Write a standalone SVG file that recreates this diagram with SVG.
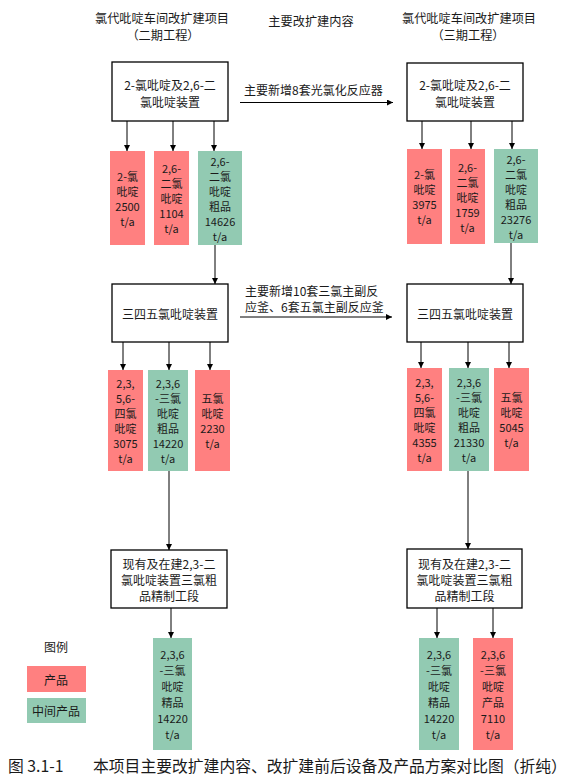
<svg xmlns="http://www.w3.org/2000/svg" width="569" height="775" viewBox="0 0 569 775">
<defs>
<marker id="ah" viewBox="0 0 10 10" refX="10" refY="5" markerWidth="6" markerHeight="6" markerUnits="userSpaceOnUse" orient="auto">
<path d="M0,0 L10,5 L0,10 z" fill="#000"/>
</marker>
<style>
text{font-family:"Noto Sans CJK SC","Liberation Sans",sans-serif;fill:#1a1a1a;dominant-baseline:central;text-anchor:middle}
.h{font-size:12.2px}
.b{font-size:12px}
.p{font-size:11px}
.box{fill:#fff;stroke:#000;stroke-width:1.3}
.red{fill:#FF8080}
.grn{fill:#92CAB2}
.c line{stroke:#000;stroke-width:1;marker-end:url(#ah)}
.l{text-anchor:start}
.cap{font-size:15.8px;text-anchor:start}
</style>
</defs>
<rect width="569" height="775" fill="#fff"/>

<g id="headers">
<text class="h" x="162" y="17.5">氯代吡啶车间改扩建项目</text>
<text class="h" x="163" y="34.5">（二期工程）</text>
<text class="h" x="311" y="20.5">主要改扩建内容</text>
<text class="h" x="469" y="17.5">氯代吡啶车间改扩建项目</text>
<text class="h" x="468" y="34.5">（三期工程）</text>
</g>

<g class="c" id="connectors">
<line x1="127" y1="121" x2="127" y2="151"/>
<line x1="173" y1="121" x2="173" y2="151"/>
<line x1="214" y1="121" x2="214" y2="151"/>
<line x1="422" y1="121" x2="422" y2="149"/>
<line x1="471" y1="121" x2="471" y2="149"/>
<line x1="512" y1="121" x2="512" y2="149"/>
<line x1="215" y1="245" x2="215" y2="284"/>
<line x1="511" y1="243" x2="511" y2="284"/>
<line x1="123" y1="342" x2="123" y2="370"/>
<line x1="169" y1="342" x2="169" y2="370"/>
<line x1="210" y1="342" x2="210" y2="370"/>
<line x1="421" y1="342" x2="421" y2="368"/>
<line x1="468" y1="342" x2="468" y2="368"/>
<line x1="509" y1="342" x2="509" y2="368"/>
<line x1="169" y1="471" x2="169" y2="550"/>
<line x1="468" y1="471" x2="468" y2="549"/>
<line x1="171" y1="608" x2="171" y2="638"/>
<line x1="437" y1="608" x2="437" y2="638"/>
<line x1="493" y1="608" x2="493" y2="638"/>
<line x1="240" y1="102.5" x2="393" y2="102.5"/>
<line x1="240" y1="317" x2="392" y2="317"/>
</g>

<g id="label-1">
<text class="b l" x="244" y="89">主要新增8套光氯化反应器</text>
</g>
<g id="label-2">
<text class="b l" x="245" y="290">主要新增10套三氯主副反</text>
<text class="b l" x="245" y="306">应釜、6套五氯主副反应釜</text>
</g>

<g id="A1">
<rect class="box" x="112" y="62" width="116" height="59"/>
<text class="b" x="170" y="84">2-氯吡啶及2,6-二</text>
<text class="b" x="170" y="101">氯吡啶装置</text>
</g>
<g id="A2">
<rect class="box" x="407" y="63" width="116" height="58"/>
<text class="b" x="465" y="84">2-氯吡啶及2,6-二</text>
<text class="b" x="465" y="101">氯吡啶装置</text>
</g>

<g id="L1a">
<rect class="red" x="110" y="151" width="35" height="94"/>
<text class="p" x="127.5" y="175.5">2-氯</text>
<text class="p" x="127.5" y="190.5">吡啶</text>
<text class="p" x="127.5" y="205.5">2500</text>
<text class="p" x="127.5" y="220.5">t/a</text>
</g>
<g id="L1b">
<rect class="red" x="154" y="151" width="35" height="94"/>
<text class="p" x="171.5" y="168">2,6-</text>
<text class="p" x="171.5" y="183">二氯</text>
<text class="p" x="171.5" y="198">吡啶</text>
<text class="p" x="171.5" y="213">1104</text>
<text class="p" x="171.5" y="228">t/a</text>
</g>
<g id="L1c">
<rect class="grn" x="198" y="151" width="44" height="94"/>
<text class="p" x="220" y="160.5">2,6-</text>
<text class="p" x="220" y="175.5">二氯</text>
<text class="p" x="220" y="190.5">吡啶</text>
<text class="p" x="220" y="205.5">粗品</text>
<text class="p" x="220" y="220.5">14626</text>
<text class="p" x="220" y="235.5">t/a</text>
</g>

<g id="R1a">
<rect class="red" x="407" y="149" width="35" height="95"/>
<text class="p" x="424.5" y="174">2-氯</text>
<text class="p" x="424.5" y="189">吡啶</text>
<text class="p" x="424.5" y="204">3975</text>
<text class="p" x="424.5" y="219">t/a</text>
</g>
<g id="R1b">
<rect class="red" x="450" y="149" width="35" height="95"/>
<text class="p" x="467.5" y="166.5">2,6-</text>
<text class="p" x="467.5" y="181.5">二氯</text>
<text class="p" x="467.5" y="196.5">吡啶</text>
<text class="p" x="467.5" y="211.5">1759</text>
<text class="p" x="467.5" y="226.5">t/a</text>
</g>
<g id="R1c">
<rect class="grn" x="494" y="149" width="44" height="94"/>
<text class="p" x="516" y="158.5">2,6-</text>
<text class="p" x="516" y="173.5">二氯</text>
<text class="p" x="516" y="188.5">吡啶</text>
<text class="p" x="516" y="203.5">粗品</text>
<text class="p" x="516" y="218.5">23276</text>
<text class="p" x="516" y="233.5">t/a</text>
</g>

<g id="B1">
<rect class="box" x="112" y="284" width="116" height="58"/>
<text class="b" x="170" y="313">三四五氯吡啶装置</text>
</g>
<g id="B2">
<rect class="box" x="407" y="284" width="116" height="58"/>
<text class="b" x="465" y="313">三四五氯吡啶装置</text>
</g>

<g id="L2a">
<rect class="red" x="108" y="370" width="35" height="101"/>
<text class="p" x="125.5" y="383">2,3,</text>
<text class="p" x="125.5" y="398">5,6-</text>
<text class="p" x="125.5" y="413">四氯</text>
<text class="p" x="125.5" y="428">吡啶</text>
<text class="p" x="125.5" y="443">3075</text>
<text class="p" x="125.5" y="458">t/a</text>
</g>
<g id="L2b">
<rect class="grn" x="148" y="370" width="40" height="101"/>
<text class="p" x="168" y="383">2,3,6</text>
<text class="p" x="168" y="398">-三氯</text>
<text class="p" x="168" y="413">吡啶</text>
<text class="p" x="168" y="428">粗品</text>
<text class="p" x="168" y="443">14220</text>
<text class="p" x="168" y="458">t/a</text>
</g>
<g id="L2c">
<rect class="red" x="195" y="370" width="35" height="101"/>
<text class="p" x="212.5" y="398">五氯</text>
<text class="p" x="212.5" y="413">吡啶</text>
<text class="p" x="212.5" y="428">2230</text>
<text class="p" x="212.5" y="443">t/a</text>
</g>

<g id="R2a">
<rect class="red" x="407" y="368" width="35" height="103"/>
<text class="p" x="424.5" y="382">2,3,</text>
<text class="p" x="424.5" y="397">5,6-</text>
<text class="p" x="424.5" y="412">四氯</text>
<text class="p" x="424.5" y="427">吡啶</text>
<text class="p" x="424.5" y="442">4355</text>
<text class="p" x="424.5" y="457">t/a</text>
</g>
<g id="R2b">
<rect class="grn" x="449" y="368" width="40" height="103"/>
<text class="p" x="469" y="382">2,3,6</text>
<text class="p" x="469" y="397">-三氯</text>
<text class="p" x="469" y="412">吡啶</text>
<text class="p" x="469" y="427">粗品</text>
<text class="p" x="469" y="442">21330</text>
<text class="p" x="469" y="457">t/a</text>
</g>
<g id="R2c">
<rect class="red" x="494" y="368" width="35" height="103"/>
<text class="p" x="511.5" y="397">五氯</text>
<text class="p" x="511.5" y="412">吡啶</text>
<text class="p" x="511.5" y="427">5045</text>
<text class="p" x="511.5" y="442">t/a</text>
</g>

<g id="C1">
<rect class="box" x="111" y="550" width="116" height="58"/>
<text class="b" x="169" y="563.5">现有及在建2,3-二</text>
<text class="b" x="169" y="579.5">氯吡啶装置三氯粗</text>
<text class="b" x="169" y="595.5">品精制工段</text>
</g>
<g id="C2">
<rect class="box" x="407" y="549" width="115" height="59"/>
<text class="b" x="464.5" y="563.5">现有及在建2,3-二</text>
<text class="b" x="464.5" y="579.5">氯吡啶装置三氯粗</text>
<text class="b" x="464.5" y="595.5">品精制工段</text>
</g>

<g id="L3">
<rect class="grn" x="153" y="638" width="39" height="112"/>
<text class="p" x="172.5" y="654">2,3,6</text>
<text class="p" x="172.5" y="670">-三氯</text>
<text class="p" x="172.5" y="686">吡啶</text>
<text class="p" x="172.5" y="702">精品</text>
<text class="p" x="172.5" y="718">14220</text>
<text class="p" x="172.5" y="734">t/a</text>
</g>
<g id="R3a">
<rect class="grn" x="419" y="638" width="40" height="112"/>
<text class="p" x="439" y="654">2,3,6</text>
<text class="p" x="439" y="670">-三氯</text>
<text class="p" x="439" y="686">吡啶</text>
<text class="p" x="439" y="702">精品</text>
<text class="p" x="439" y="718">14220</text>
<text class="p" x="439" y="734">t/a</text>
</g>
<g id="R3b">
<rect class="red" x="473" y="638" width="40" height="112"/>
<text class="p" x="493" y="654">2,3,6</text>
<text class="p" x="493" y="670">-三氯</text>
<text class="p" x="493" y="686">吡啶</text>
<text class="p" x="493" y="702">产品</text>
<text class="p" x="493" y="718">7110</text>
<text class="p" x="493" y="734">t/a</text>
</g>

<g id="legend">
<text class="b" x="56" y="646">图例</text>
<rect class="red" x="27" y="666" width="59" height="26"/>
<text class="b" x="56" y="679">产品</text>
<rect class="grn" x="27" y="698" width="59" height="25"/>
<text class="b" x="56" y="710.5">中间产品</text>
</g>

<g id="caption">
<text class="cap" x="8" y="765">图 3.1-1</text>
<text class="cap" x="93" y="765">本项目主要改扩建内容、改扩建前后设备及产品方案对比图（折纯）</text>
</g>
</svg>
